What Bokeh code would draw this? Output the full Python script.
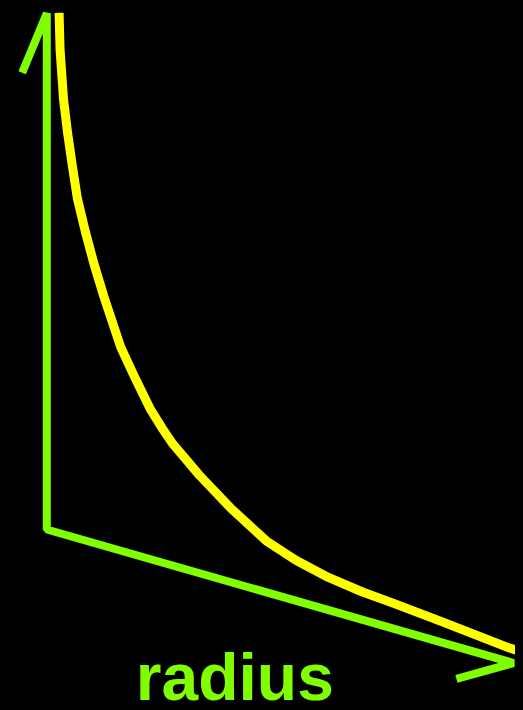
from bokeh.plotting import figure
from bokeh.models import Range1d, ColumnDataSource, GlobalInlineStyleSheet
from bokeh.core.properties import value
from bokeh.embed import file_html
from bokeh.resources import INLINE

# ---- data ----
# radius (distance along the slanted radius axis, from the origin)
radius = [12.5, 13.5, 17, 21, 26, 31, 39, 48, 58, 75, 89, 105, 117, 128, 155, 188, 223,
          253, 286, 320, 353, 403, 470, 483]
# height of the curve above the radius axis
potential = [526, 489, 440, 408, 375, 344, 313, 282, 252, 206, 180, 152, 136, 123, 99, 74, 52,
             41, 33, 28.2, 25.6, 20.9, 14, 13.7]
axis_label = "radius"

# ---- layout / style constants (reference-picture units, 523 x 710) ----
ORIGIN_X, ORIGIN_Y = 47, 535       # corner of the two axes
SKEW = 0.285                       # drop of the radius axis per unit radius
Y_AXIS_TOP = 13
X_AXIS_LEN = 474
GREEN = "#80FF00"
YELLOW = "#FFFF00"

W, H = 515, 702
p = figure(width=W, height=H, output_backend="svg", toolbar_location=None,
           x_range=Range1d(0, 523), y_range=Range1d(710, 0),
           background_fill_color="black", border_fill_color="black",
           min_border=0, outline_line_color=None)
p.axis.visible = False
p.grid.visible = False
p.stylesheets = [GlobalInlineStyleSheet(css="html,body{background:#000;}")]

# curve: origin + radius along the skewed axis, lifted by the potential
cx = [ORIGIN_X + r for r in radius]
cy = [ORIGIN_Y + SKEW * r - v for r, v in zip(radius, potential)]
src = ColumnDataSource(dict(x=cx, y=cy))

# axes drawn as one polyline: up-arrow barb, y-axis, radius axis, right arrow barb
x_end = ORIGIN_X + X_AXIS_LEN
y_end = ORIGIN_Y + SKEW * X_AXIS_LEN
ax_x = [ORIGIN_X - 25, ORIGIN_X, ORIGIN_X, x_end, x_end - 58]
ax_y = [Y_AXIS_TOP + 60, Y_AXIS_TOP, ORIGIN_Y, y_end, y_end + 16]
p.line(ax_x, ax_y, line_color=GREEN, line_width=8, line_join="bevel")

p.line("x", "y", source=src, line_color=YELLOW, line_width=9, line_join="round")

p.text(x=[238], y=[684], text=[axis_label], text_color=GREEN,
       text_font=value("Liberation Sans"), text_font_style="bold",
       text_font_size="66px", text_align="center", text_baseline="alphabetic")

open("out.html", "w").write(file_html(p, INLINE))
